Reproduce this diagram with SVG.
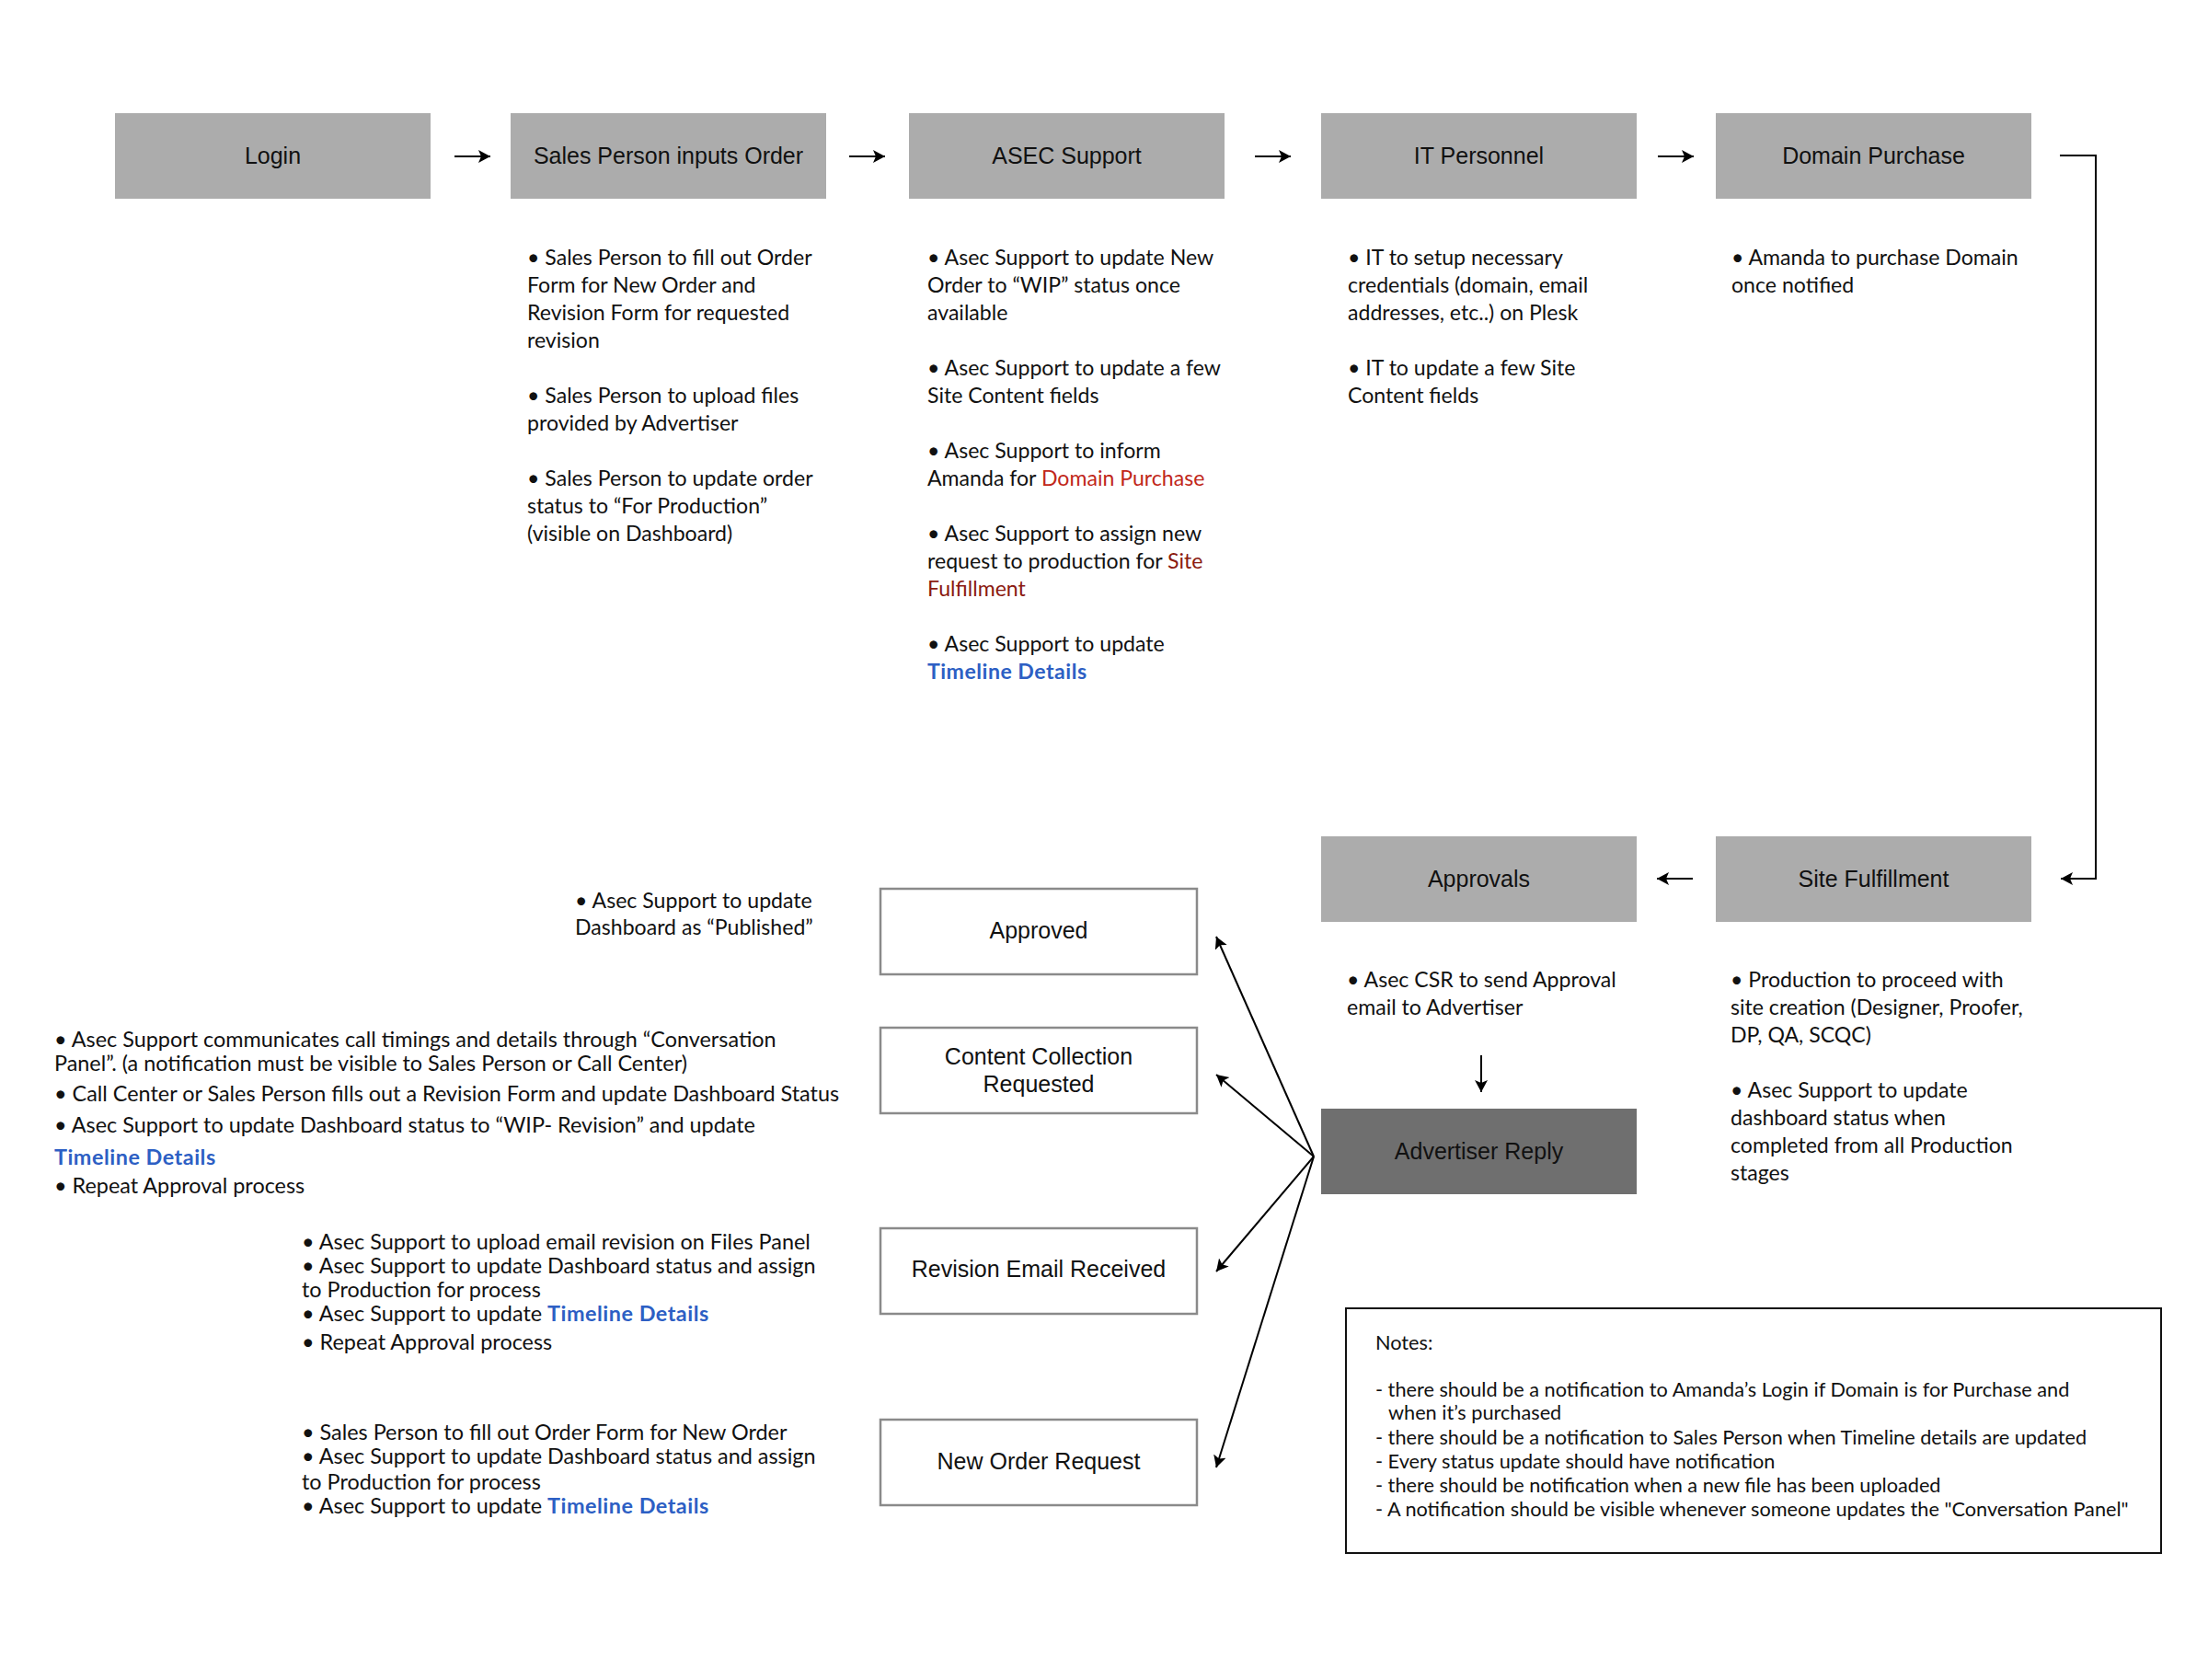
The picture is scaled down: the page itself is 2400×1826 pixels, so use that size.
<svg xmlns="http://www.w3.org/2000/svg" width="2400" height="1826" viewBox="0 0 2400 1826">
<style>
.bg{fill:#ffffff}
.gbox{fill:#acacac}
.dbox{fill:#6f6f6f}
.wbox{fill:#ffffff;stroke:#8a8a8a;stroke-width:2.5}
.nbox{fill:#ffffff;stroke:#111111;stroke-width:2}
.lbl{font-family:"Liberation Sans",Arial,sans-serif;font-size:25px;fill:#111111;text-anchor:middle}
.t{font-family:Lato,"Open Sans",sans-serif;font-size:23.1px;fill:#111111}
.s{font-family:Lato,"Open Sans",sans-serif;font-size:23.4px;fill:#111111}
.n{font-family:Lato,"Open Sans",sans-serif;font-size:21.7px;fill:#111111}
.red{fill:#c1271a}
.dred{fill:#8b1a10}
.blue{fill:#2d5fc4;font-weight:bold;letter-spacing:0.5px}
.con{fill:none;stroke:#000000;stroke-width:2}
</style>
<defs>
<marker id="ah" markerUnits="userSpaceOnUse" markerWidth="16" markerHeight="16" refX="13" refY="7" orient="auto">
<path d="M0,0 L13,7 L0,14 L3,7 z" fill="#000000"/>
</marker>
</defs>
<rect class="bg" x="0" y="0" width="2400" height="1826"/>

<g id="login"><rect class="gbox" x="125" y="123" width="343" height="93"/><text class="lbl" x="296.5" y="178">Login</text></g>

<g id="sales-person"><rect class="gbox" x="555" y="123" width="343" height="93"/><text class="lbl" x="726.5" y="178">Sales Person inputs Order</text>
<text class="t" x="573"><tspan x="573" y="288">• Sales Person to fill out Order</tspan><tspan x="573" y="318">Form for New Order and</tspan><tspan x="573" y="348">Revision Form for requested</tspan><tspan x="573" y="378">revision</tspan><tspan x="573" y="438">• Sales Person to upload files</tspan><tspan x="573" y="468">provided by Advertiser</tspan><tspan x="573" y="528">• Sales Person to update order</tspan><tspan x="573" y="558">status to “For Production”</tspan><tspan x="573" y="588">(visible on Dashboard)</tspan></text></g>

<g id="asec-support"><rect class="gbox" x="988" y="123" width="343" height="93"/><text class="lbl" x="1159.5" y="178">ASEC Support</text>
<text class="t"><tspan x="1008" y="288">• Asec Support to update New</tspan><tspan x="1008" y="318">Order to “WIP” status once</tspan><tspan x="1008" y="348">available</tspan><tspan x="1008" y="408">• Asec Support to update a few</tspan><tspan x="1008" y="438">Site Content fields</tspan><tspan x="1008" y="498">• Asec Support to inform</tspan><tspan x="1008" y="528">Amanda for <tspan class="red">Domain Purchase</tspan></tspan><tspan x="1008" y="588">• Asec Support to assign new</tspan><tspan x="1008" y="618">request to production for <tspan class="dred">Site</tspan></tspan><tspan x="1008" y="648" class="dred">Fulfillment</tspan><tspan x="1008" y="708">• Asec Support to update</tspan><tspan x="1008" y="738" class="blue">Timeline Details</tspan></text></g>

<g id="it-personnel"><rect class="gbox" x="1436" y="123" width="343" height="93"/><text class="lbl" x="1607.5" y="178">IT Personnel</text>
<text class="t"><tspan x="1465" y="288">• IT to setup necessary</tspan><tspan x="1465" y="318">credentials (domain, email</tspan><tspan x="1465" y="348">addresses, etc..) on Plesk</tspan><tspan x="1465" y="408">• IT to update a few Site</tspan><tspan x="1465" y="438">Content fields</tspan></text></g>

<g id="domain-purchase"><rect class="gbox" x="1865" y="123" width="343" height="93"/><text class="lbl" x="2036.5" y="178">Domain Purchase</text>
<text class="t"><tspan x="1882" y="288">• Amanda to purchase Domain</tspan><tspan x="1882" y="318">once notified</tspan></text></g>

<g id="site-fulfillment"><rect class="gbox" x="1865" y="909" width="343" height="93"/><text class="lbl" x="2036.5" y="964">Site Fulfillment</text>
<text class="t"><tspan x="1881" y="1073">• Production to proceed with</tspan><tspan x="1881" y="1103">site creation (Designer, Proofer,</tspan><tspan x="1881" y="1133">DP, QA, SCQC)</tspan><tspan x="1881" y="1193">• Asec Support to update</tspan><tspan x="1881" y="1223">dashboard status when</tspan><tspan x="1881" y="1253">completed from all Production</tspan><tspan x="1881" y="1283">stages</tspan></text></g>

<g id="approvals"><rect class="gbox" x="1436" y="909" width="343" height="93"/><text class="lbl" x="1607.5" y="964">Approvals</text>
<text class="t"><tspan x="1464" y="1073">• Asec CSR to send Approval</tspan><tspan x="1464" y="1103">email to Advertiser</tspan></text></g>

<g id="advertiser-reply"><rect class="dbox" x="1436" y="1205" width="343" height="93"/><text class="lbl" x="1607.5" y="1260">Advertiser Reply</text></g>

<g id="approved"><rect class="wbox" x="957" y="966" width="344" height="93"/><text class="lbl" x="1129" y="1020">Approved</text>
<text class="t"><tspan x="625" y="987">• Asec Support to update</tspan><tspan x="625" y="1016">Dashboard as “Published”</tspan></text></g>

<g id="content-collection"><rect class="wbox" x="957" y="1117" width="344" height="93"/><text class="lbl"><tspan x="1129" y="1157">Content Collection</tspan><tspan x="1129" y="1187">Requested</tspan></text>
<text class="s"><tspan x="59" y="1138">• Asec Support communicates call timings and details through “Conversation</tspan><tspan x="59" y="1164">Panel”. (a notification must be visible to Sales Person or Call Center)</tspan><tspan x="59" y="1197">• Call Center or Sales Person fills out a Revision Form and update Dashboard Status</tspan><tspan x="59" y="1231">• Asec Support to update Dashboard status to “WIP- Revision” and update</tspan><tspan x="59" y="1266" class="blue">Timeline Details</tspan><tspan x="59" y="1297">• Repeat Approval process</tspan></text></g>

<g id="revision-email"><rect class="wbox" x="957" y="1335" width="344" height="93"/><text class="lbl" x="1129" y="1388">Revision Email Received</text>
<text class="s"><tspan x="328" y="1358">• Asec Support to upload email revision on Files Panel</tspan><tspan x="328" y="1384">• Asec Support to update Dashboard status and assign</tspan><tspan x="328" y="1410">to Production for process</tspan><tspan x="328" y="1436">• Asec Support to update <tspan class="blue">Timeline Details</tspan></tspan><tspan x="328" y="1467">• Repeat Approval process</tspan></text></g>

<g id="new-order"><rect class="wbox" x="957" y="1543" width="344" height="93"/><text class="lbl" x="1129" y="1597">New Order Request</text>
<text class="s"><tspan x="328" y="1565">• Sales Person to fill out Order Form for New Order</tspan><tspan x="328" y="1591">• Asec Support to update Dashboard status and assign</tspan><tspan x="328" y="1619">to Production for process</tspan><tspan x="328" y="1645">• Asec Support to update <tspan class="blue">Timeline Details</tspan></tspan></text></g>

<g id="notes"><rect class="nbox" x="1463" y="1422" width="886" height="266"/>
<text class="n"><tspan x="1495" y="1467">Notes:</tspan><tspan x="1495" y="1518">- there should be a notification to Amanda’s Login if Domain is for Purchase and</tspan><tspan x="1509" y="1543">when it’s purchased</tspan><tspan x="1495" y="1570">- there should be a notification to Sales Person when Timeline details are updated</tspan><tspan x="1495" y="1596">- Every status update should have notification</tspan><tspan x="1495" y="1622">- there should be notification when a new file has been uploaded</tspan><tspan x="1495" y="1648">- A notification should be visible whenever someone updates the "Conversation Panel"</tspan></text></g>

<g id="connectors">
<line class="con" x1="494" y1="170" x2="533" y2="170" marker-end="url(#ah)"/>
<line class="con" x1="923" y1="170" x2="962" y2="170" marker-end="url(#ah)"/>
<line class="con" x1="1364" y1="170" x2="1403" y2="170" marker-end="url(#ah)"/>
<line class="con" x1="1802" y1="170" x2="1841" y2="170" marker-end="url(#ah)"/>
<path class="con" d="M2239,169 H2278 V955 H2240" marker-end="url(#ah)"/>
<line class="con" x1="1840" y1="955" x2="1801" y2="955" marker-end="url(#ah)"/>
<line class="con" x1="1610" y1="1147" x2="1610" y2="1187" marker-end="url(#ah)"/>
<line class="con" x1="1428" y1="1257" x2="1322" y2="1018" marker-end="url(#ah)"/>
<line class="con" x1="1428" y1="1257" x2="1322" y2="1168" marker-end="url(#ah)"/>
<line class="con" x1="1428" y1="1257" x2="1322" y2="1382" marker-end="url(#ah)"/>
<line class="con" x1="1428" y1="1257" x2="1322" y2="1595" marker-end="url(#ah)"/>
</g>
</svg>
